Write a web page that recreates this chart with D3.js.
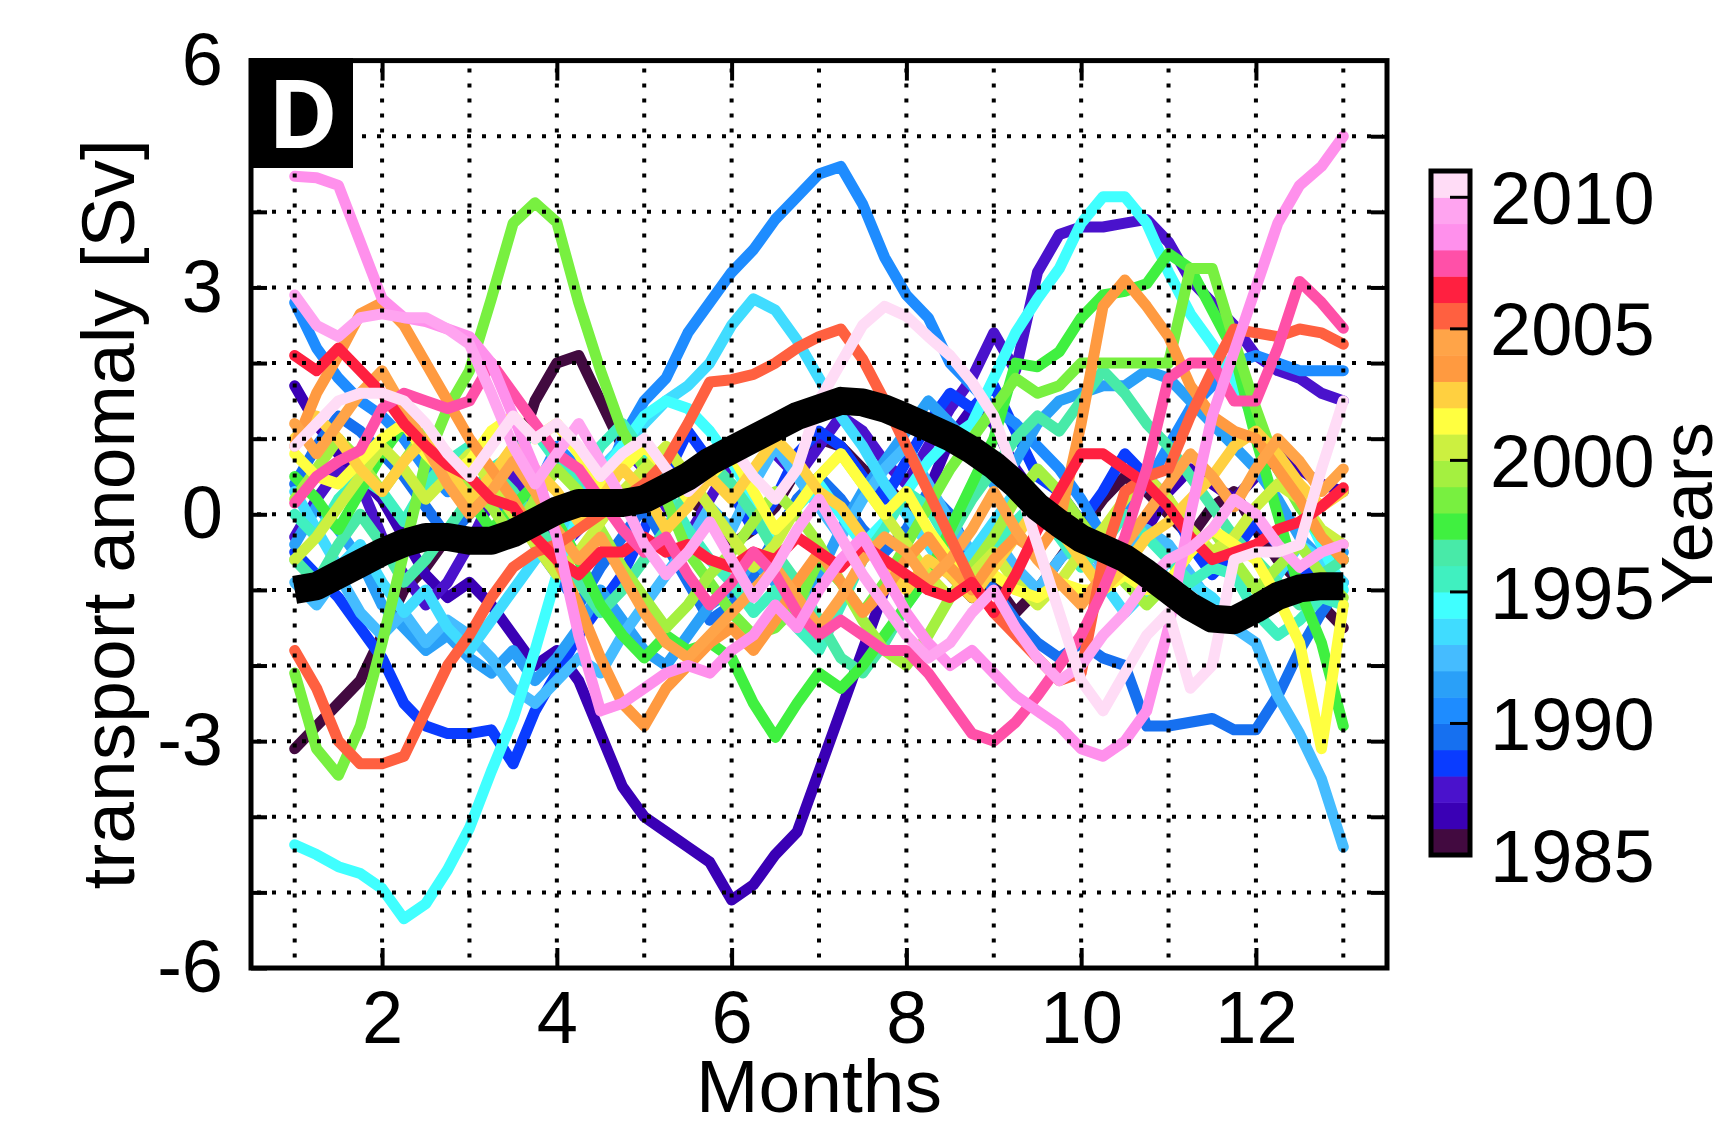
<!DOCTYPE html>
<html>
<head>
<meta charset="utf-8">
<script src="https://cdn.jsdelivr.net/npm/d3@7/dist/d3.min.js"></script>
<style>
body { margin: 0; background: #fff; }
text { font-family: "Liberation Sans", Arial, Helvetica, sans-serif; fill: #000; }
</style>
</head>
<body>
<svg id="chart" width="1729" height="1129"></svg>
<script>
// --------DATA--------------
// one value every quarter month, from month 1 to month 13 (49 values each)
var years = [1985, 1986, 1987, 1988, 1989, 1990, 1991, 1992, 1993, 1994, 1995, 1996, 1997,
             1998, 1999, 2000, 2001, 2002, 2003, 2004, 2005, 2006, 2007, 2008, 2009, 2010];
var yearColors = ["#420a40", "#3a00b5", "#4a12cc", "#0a3cff", "#1670f0", "#1e8cff", "#2aa0f8",
                  "#45bcff", "#40dcff", "#40ffff", "#40f0c0", "#48eaa8", "#40f040", "#78f040",
                  "#a4f040", "#ccf040", "#ffff40", "#ffd040", "#ff9a40", "#ffa448", "#ff6040",
                  "#ff2040", "#ff50a8", "#ff90ec", "#ffa4f0", "#ffdcf6"];
var monthTicks = [2, 4, 6, 8, 10, 12];
var anomalyTicks = [-6, -3, 0, 3, 6];
var yearTicks = [1985, 1990, 1995, 2000, 2005, 2010];

var y1985 = [-3.1, -2.8, -2.5, -2.2, -1.6, -1.0, -0.7, -0.3, 0.1, 0.4, 0.6, 1.5, 2.0, 2.1, 1.5, 0.9,
  0.7, 0.5, 0.2, 0.0, -0.4, -0.2, 0.1, 0.6, 1.0, 0.9, 0.6, 0.4, 0.1, -0.3, -0.8, -1.1,
  -0.9, -1.3, -1.0, -0.6, -0.2, 0.2, 0.5, 0.3, 0.0, -0.3, 0.1, 0.3, -0.2, -0.6, -0.9, -1.2, -1.5];
var y1986 = [1.7, 1.2, 0.8, 0.5, 0.2, -0.3, -0.8, -1.1, -0.9, -1.2, -1.6, -2.0, -1.8, -2.2, -2.9, -3.6,
  -4.0, -4.2, -4.4, -4.6, -5.1, -4.9, -4.5, -4.2, -3.4, -2.6, -1.8, -1.0, -0.4, 0.3, 1.0, 1.4,
  1.2, 0.6, 0.2, -0.1, -0.6, -0.9, -0.6, -0.2, 0.3, 0.6, 0.4, 0.2, 0.5, 0.8, 0.6, 0.4, 0.3];
var y1987 = [-0.3, 0.2, 0.6, 0.4, -0.3, -0.8, -1.2, -0.9, -0.4, 0.2, 0.5, 0.1, -0.5, -0.2, 0.4, 0.9,
  0.6, 0.1, -0.3, 0.2, 0.7, 1.1, 0.8, 0.5, 0.9, 1.3, 1.1, 0.7, 0.4, 0.9, 1.4, 1.8,
  2.4, 1.9, 3.2, 3.7, 3.8, 3.8, 3.85, 3.9, 3.6, 3.1, 2.8, 2.5, 2.1, 1.9, 1.8, 1.6, 1.5];
var y1988 = [-0.5, -0.8, -1.1, -1.5, -1.9, -2.5, -2.8, -2.9, -2.9, -2.85, -3.3, -2.6, -2.1, -1.6, -1.2, -0.8,
  -0.2, 0.5, 1.1, 0.7, 0.3, -0.2, 0.2, 0.8, 1.1, 0.9, 0.5, 0.2, 0.7, 1.2, 1.6, 1.4,
  1.7, 1.1, 0.5, 0.3, -0.1, 0.3, 0.8, 0.5, 0.2, -0.4, -0.8, -0.5, -0.1, -0.4, -0.9, -0.6, -0.6];
var y1989 = [0.4, 0.9, 1.3, 1.1, 0.8, 0.5, 0.1, -0.3, 0.0, 0.4, 0.1, -0.4, -0.8, -1.2, -0.7, -0.3,
  0.1, -0.4, -0.9, -1.4, -1.2, -0.8, -0.3, 0.2, 0.5, 0.2, -0.2, -0.5, -0.2, 0.3, 0.0, -0.6,
  -1.0, -1.4, -1.7, -1.9, -1.7, -1.9, -2.0, -2.8, -2.8, -2.75, -2.7, -2.85, -2.85, -2.4, -1.8, -1.3, -0.9];
var y1990 = [2.8, 2.2, 1.8, 1.5, 1.3, 1.0, 0.6, 0.3, 0.5, 0.2, -0.2, 0.3, 0.9, 0.6, 0.3, 1.0,
  1.5, 1.8, 2.4, 2.8, 3.2, 3.5, 3.9, 4.2, 4.5, 4.6, 4.1, 3.4, 2.9, 2.6, 2.0, 1.7,
  1.4, 1.2, 0.9, 0.6, 0.2, -0.3, 0.1, 0.4, 0.9, 1.4, 1.7, 2.0, 2.1, 2.0, 1.9, 1.9, 1.9];
var y1991 = [-0.4, 0.1, -0.2, -0.6, -1.2, -1.5, -1.8, -1.6, -1.9, -2.1, -1.8, -2.2, -1.9, -1.5, -1.0, -1.4,
  -1.8, -2.0, -1.6, -1.2, -1.0, -0.6, -0.9, -1.3, -0.8, -0.2, 0.3, 0.7, 1.1, 1.5, 1.2, 0.9,
  0.4, 0.7, 1.2, 1.5, 1.6, 1.7, 1.7, 1.9, 1.8, 1.5, 1.2, 0.9, 0.6, 0.2, -0.3, -0.6, -0.5];
var y1992 = [-0.9, -1.2, -0.8, -1.3, -1.6, -1.3, -1.7, -1.4, -1.6, -1.9, -2.3, -2.5, -2.2, -1.9, -2.1, -1.6,
  -1.2, -0.8, -0.4, 0.1, -0.2, 0.4, 0.9, 0.5, 0.1, -0.3, 0.2, 0.6, 0.9, 0.4, -0.1, -0.5,
  -0.3, -0.7, -1.0, -0.6, -0.3, -0.7, -0.5, -0.2, -0.4, -0.8, -1.2, -1.5, -1.7, -2.4, -2.9, -3.5, -4.4];
var y1993 = [0.3, -0.2, -0.7, -0.4, -0.9, -1.3, -1.0, -1.5, -1.8, -1.4, -1.0, -0.6, -0.3, 0.2, 0.6, 0.9,
  1.2, 1.5, 1.7, 2.0, 2.5, 2.85, 2.7, 2.3, 1.8, 1.3, 0.9, 0.4, 0.0, -0.4, -0.8, -0.5,
  -0.1, 0.3, 0.1, -0.3, -0.6, -0.9, -1.3, -1.0, -0.6, -0.9, -1.1, -1.4, -1.2, -0.8, -0.4, -0.6, -0.9];
var y1994 = [-4.37, -4.5, -4.66, -4.75, -4.95, -5.35, -5.15, -4.7, -4.15, -3.4, -2.7, -1.8, -0.8, 0.0, 0.5, 0.9,
  1.3, 1.5, 1.4, 1.1, 0.7, 0.2, -0.3, 0.1, 0.4, 0.0, -0.4, -0.1, 0.3, 0.7, 1.0, 1.2,
  1.8, 2.4, 2.85, 3.25, 3.85, 4.2, 4.2, 3.85, 3.2, 2.65, 2.25, 1.8, 1.2, 0.6, 0.2, -0.4, -1.0];
var y1995 = [0.0, -0.3, 0.2, 0.5, 0.3, -0.1, 0.4, 0.7, 0.9, 0.6, 0.8, 1.1, 0.7, 0.4, 0.9, 1.2,
  0.8, 0.3, -0.2, -0.6, -0.9, -1.3, -1.0, -1.5, -1.8, -1.2, -0.6, -0.2, 0.3, 0.1, -0.4, -0.8,
  -0.5, -0.1, 0.2, -0.3, -0.7, -0.4, 0.0, -0.3, -0.6, -0.9, -0.7, -0.8, -1.3, -1.6, -1.4, -1.1, -1.2];
var y1996 = [-0.6, -0.9, -0.4, 0.0, -0.4, -0.9, -0.6, -0.2, 0.2, 0.6, 0.3, -0.1, -0.5, -0.9, -1.3, -1.0,
  -0.6, -0.2, 0.3, 0.7, 0.4, 0.0, -0.5, -0.9, -1.4, -1.9, -2.1, -1.7, -1.2, -0.8, -0.3, 0.2,
  0.6, 1.0, 1.3, 1.1, 1.5, 1.9, 1.6, 1.2, 0.9, 0.5, 0.1, -0.3, -0.6, -0.9, -1.2, -0.8, -0.6];
var y1997 = [0.5, 0.2, -0.2, 0.3, 0.8, 1.2, 0.9, 0.5, 0.2, -0.2, 0.1, 0.4, -0.1, -0.6, -1.2, -1.6,
  -1.9, -1.6, -1.8, -1.7, -1.9, -2.5, -2.95, -2.5, -2.1, -2.3, -2.0, -1.6, -1.2, -0.8, -0.2, 0.4,
  1.0, 2.0, 1.95, 2.15, 2.6, 2.9, 2.95, 3.05, 3.45, 3.25, 2.7, 2.15, 1.0, 0.0, -1.0, -1.7, -2.8];
var y1998 = [-2.1, -3.1, -3.45, -2.8, -1.7, -0.5, 0.7, 1.4, 1.9, 2.85, 3.85, 4.12, 3.86, 2.8, 1.9, 1.1,
  0.6, 0.2, -0.5, -0.9, -1.3, -1.6, -1.5, -1.2, -0.6, -0.9, -1.3, -0.9, -0.4, 0.1, 0.6, 1.0,
  1.4, 1.8, 1.6, 1.7, 2.0, 2.0, 2.0, 2.0, 2.0, 3.25, 3.25, 2.3, 1.4, 0.6, 0.1, -0.3, -0.6];
var y1999 = [0.2, 0.6, 1.0, 0.7, 0.3, 0.7, 1.1, 0.8, 0.4, 0.1, -0.3, 0.2, 0.6, 0.3, -0.2, -0.7,
  -1.1, -1.5, -1.2, -0.8, -0.5, -0.1, 0.3, 0.0, -0.4, -0.9, -1.4, -1.8, -2.0, -1.6, -1.1, -0.7,
  -0.3, 0.2, 0.6, 0.3, -0.1, -0.5, -0.9, -1.2, -0.9, -0.5, -0.2, -0.6, -1.0, -0.7, -0.4, -0.8, -1.1];
var y2000 = [-0.6, -0.3, 0.1, 0.5, 0.9, 0.6, 0.2, 0.5, 0.8, 0.4, 0.0, -0.4, -0.8, -0.5, -0.1, 0.3,
  0.6, 0.9, 0.5, 0.1, -0.3, -0.7, -0.4, 0.1, 0.5, 0.8, 0.4, 0.0, -0.4, -0.8, -1.1, -0.8,
  -0.5, -0.9, -1.2, -0.9, -0.5, -0.2, 0.2, 0.5, 0.2, -0.2, -0.5, -0.3, 0.1, 0.4, 0.2, -0.2, -0.4];
var y2001 = [0.8, 0.5, 0.4, 0.7, 1.0, 1.2, 0.8, 0.5, 0.7, 1.1, 1.3, 1.0, 1.2, 0.8, 0.3, 0.6,
  0.9, 0.6, 0.2, 0.5, 0.8, 0.3, -0.2, 0.1, 0.5, 0.8, 0.4, 0.0, 0.3, -0.2, -0.6, -0.9,
  -0.8, -1.0, -1.1, -0.9, -1.0, -1.0, -0.8, -1.0, -0.9, -0.5, -0.2, -0.4, -0.6, -1.1, -1.7, -3.1, -1.2];
var y2002 = [1.0, 1.3, 1.0, 0.6, 0.3, 0.7, 1.0, 0.6, 0.2, 0.5, 0.9, 0.6, 0.3, -0.1, 0.2, 0.6,
  0.3, -0.2, 0.1, 0.5, 0.2, 0.6, 1.0, 0.7, 0.3, 0.1, -0.3, -0.7, -1.0, -0.6, -0.8, -1.1,
  -0.7, -0.3, 0.1, -0.2, -0.6, -1.0, -0.7, -0.3, -0.1, 0.2, 0.5, 0.9, 1.1, 0.8, 0.4, 0.1, 0.3];
var y2003 = [0.9, 1.6, 2.1, 2.65, 2.8, 2.5, 2.0, 1.5, 1.0, 0.6, 0.2, -0.3, -0.6, -1.2, -1.9, -2.5,
  -2.8, -2.3, -2.0, -1.7, -1.5, -1.8, -1.4, -0.9, -0.5, -0.9, -1.3, -1.0, -0.6, -0.3, -0.7, -1.0,
  -0.6, -0.3, -0.5, -0.1, 1.2, 2.75, 3.1, 2.75, 2.35, 1.7, 1.3, 1.1, 1.0, 0.6, 0.2, -0.3, -0.6];
var y2004 = [1.2, 0.8, 1.2, 1.6, 1.9, 1.4, 0.9, 0.4, 0.0, 0.3, 0.7, 0.3, -0.2, -0.6, -0.3, -0.8,
  -1.3, -1.7, -1.9, -1.6, -1.3, -1.0, -0.7, -1.1, -1.5, -1.1, -0.6, -0.3, -0.5, -0.9, -0.6, -0.2,
  0.3, -0.2, -0.6, -0.9, -1.2, -0.8, -0.4, 0.0, 0.4, 0.8, 0.5, 0.1, 0.6, 1.0, 0.7, 0.3, 0.6];
var y2005 = [-1.8, -2.3, -3.0, -3.3, -3.3, -3.2, -2.6, -2.0, -1.6, -1.1, -0.7, -0.5, -0.4, -0.2, 0.0, 0.2,
  0.4, 0.7, 1.2, 1.75, 1.78, 1.85, 2.0, 2.2, 2.35, 2.45, 2.05, 1.5, 0.9, 0.3, -0.3, -0.9,
  -1.3, -1.6, -1.9, -2.2, -2.1, -0.6, 0.3, 0.5, 0.6, 1.3, 1.9, 2.45, 2.4, 2.35, 2.45, 2.4, 2.25];
var y2006 = [2.1, 1.9, 2.2, 1.9, 1.6, 1.2, 0.9, 0.65, 0.5, 0.2, 0.1, -0.3, -0.6, -0.8, -0.5, -0.5,
  -0.3, -0.5, -0.4, -0.6, -0.7, -0.5, -0.6, -0.3, -0.5, -0.7, -0.4, -0.6, -0.8, -1.0, -1.1, -0.9,
  -1.3, -0.8, -0.2, 0.3, 0.8, 0.8, 0.6, 0.4, 0.1, -0.3, -0.6, -0.5, -0.4, -0.2, -0.1, 0.1, 0.35];
var y2007 = [0.15, 0.5, 0.7, 0.85, 1.4, 1.6, 1.5, 1.4, 1.5, 2.0, 1.6, 1.2, 0.8, 0.6, 0.2, -0.2,
  -0.5, -0.3, -0.8, -1.2, -0.9, -0.5, -0.8, -1.3, -1.6, -1.4, -1.6, -1.8, -1.8, -2.1, -2.5, -2.9,
  -3.0, -2.75, -2.4, -2.0, -1.6, -1.0, -0.3, 0.6, 1.8, 2.0, 2.0, 1.5, 1.5, 2.2, 3.08, 2.8, 2.46];
var y2008 = [4.47, 4.45, 4.35, 3.6, 2.85, 2.6, 2.55, 2.45, 2.35, 2.0, 1.3, 0.6, -0.3, -1.6, -2.6, -2.5,
  -2.3, -2.1, -2.0, -2.1, -1.8, -1.6, -1.2, -1.5, -1.0, -0.6, -0.3, -0.8, -1.3, -1.7, -2.0, -1.8,
  -2.1, -2.4, -2.6, -2.8, -3.1, -3.2, -3.0, -2.6, -1.5, 0.0, 1.3, 2.15, 3.0, 3.85, 4.35, 4.6, 5.0];
var y2009 = [2.9, 2.5, 2.35, 2.6, 2.65, 2.6, 2.6, 2.45, 2.25, 1.6, 0.9, 0.4, 0.8, 1.2, 0.7, 0.2,
  -0.4, -0.8, -0.5, -0.1, -0.6, -1.1, -0.7, -0.2, 0.2, -0.3, -0.8, -1.2, -1.6, -1.9, -1.7, -1.3,
  -1.0, -1.5, -1.9, -2.2, -2.0, -1.6, -1.3, -0.9, -0.6, -0.45, -0.2, 0.2, 0.0, -0.4, -0.7, -0.5, -0.4];
var y2010 = [0.9, 1.2, 1.5, 1.6, 1.6, 1.5, 1.2, 0.8, 0.5, 0.9, 1.3, 1.0, 1.2, 0.9, 0.5, 0.8,
  1.0, 0.6, 0.3, 0.6, 0.9, 0.5, 0.2, 0.6, 1.5, 2.0, 2.5, 2.75, 2.62, 2.35, 2.1, 1.75,
  1.3, 0.5, -0.4, -1.3, -2.2, -2.6, -2.1, -1.6, -1.3, -2.3, -2.0, -0.6, -0.5, -0.5, -0.4, 0.6, 1.5];

// climatological mean (thick black)
var meanCycle = [-1.0, -0.95, -0.8, -0.65, -0.5, -0.38, -0.3, -0.3, -0.35, -0.35, -0.25, -0.1,
  0.05, 0.15, 0.15, 0.15, 0.2, 0.35, 0.5, 0.7, 0.85, 1.0, 1.15, 1.3, 1.4, 1.5, 1.48, 1.4,
  1.28, 1.15, 1.02, 0.85, 0.65, 0.4, 0.1, -0.12, -0.32, -0.45, -0.58, -0.78,
  -1.0, -1.22, -1.38, -1.4, -1.25, -1.08, -0.98, -0.95, -0.95];

var seriesList = [y1985, y1986, y1987, y1988, y1989, y1990, y1991, y1992, y1993, y1994, y1995, y1996, y1997,
                  y1998, y1999, y2000, y2001, y2002, y2003, y2004, y2005, y2006, y2007, y2008, y2009, y2010];

var months = meanCycle.map(function(d, i) { return 1 + i / 4; });

// --------LAYOUT--------------
var svg = d3.select("#chart");
var plot = {left: 251, right: 1387, top: 60.6, bottom: 968};

var x = d3.scaleLinear().domain([0.5, 13.5]).range([plot.left, plot.right]);
var y = d3.scaleLinear().domain([-6, 6]).range([plot.bottom, plot.top]);

var line = d3.line()
  .x(function(d, i) { return x(months[i]); })
  .y(function(d) { return y(d); });

// yearly curves
svg.append("g")
  .selectAll("path")
  .data(seriesList)
  .enter().append("path")
  .attr("d", line)
  .attr("fill", "none")
  .attr("stroke", function(d, i) { return yearColors[i]; })
  .attr("stroke-width", 11)
  .attr("stroke-linecap", "round")
  .attr("stroke-linejoin", "round");

// dotted grid drawn over the curves
var grid = svg.append("g")
  .attr("stroke", "#000")
  .attr("stroke-width", 4)
  .attr("stroke-dasharray", "4 11");

grid.selectAll(".vgrid")
  .data(d3.range(1, 14))
  .enter().append("line")
  .attr("class", "vgrid")
  .attr("x1", function(d) { return x(d); })
  .attr("x2", function(d) { return x(d); })
  .attr("y1", y(6) + 8)
  .attr("y2", y(-6) - 4);

grid.selectAll(".hgrid")
  .data(d3.range(-5, 6))
  .enter().append("line")
  .attr("class", "hgrid")
  .attr("x1", x(0.5) + 6)
  .attr("x2", x(13.5) - 4)
  .attr("y1", function(d) { return y(d); })
  .attr("y2", function(d) { return y(d); });

// mean curve
svg.append("path")
  .datum(meanCycle)
  .attr("d", line)
  .attr("fill", "none")
  .attr("stroke", "#000")
  .attr("stroke-width", 28)
  .attr("stroke-linejoin", "round");

// --------AXES--------------
var fmt = function(d) { return String(d); };

var axLeft = svg.append("g")
  .attr("transform", "translate(" + plot.left + ",0)")
  .call(d3.axisLeft(y).tickValues(d3.range(-6, 7)).tickSize(-16).tickPadding(28)
    .tickFormat(function(d) { return anomalyTicks.indexOf(d) >= 0 ? fmt(d) : ""; }));

var axRight = svg.append("g")
  .attr("transform", "translate(" + plot.right + ",0)")
  .call(d3.axisRight(y).tickValues(d3.range(-5, 6)).tickSize(-16).tickFormat(""));

var axBottom = svg.append("g")
  .attr("transform", "translate(0," + plot.bottom + ")")
  .call(d3.axisBottom(x).tickValues(monthTicks).tickSize(-20).tickPadding(22).tickFormat(fmt));

var axTop = svg.append("g")
  .attr("transform", "translate(0," + plot.top + ")")
  .call(d3.axisTop(x).tickValues(monthTicks).tickSize(-20).tickFormat(""));

[axLeft, axRight, axBottom, axTop].forEach(function(a) {
  a.select(".domain").remove();
  a.selectAll(".tick line").attr("stroke", "#000").attr("stroke-width", 4);
  a.selectAll("text")
    .style("font-family", "'Liberation Sans', Arial, sans-serif")
    .style("font-size", "74px")
    .attr("fill", "#000");
});

// frame
svg.append("rect")
  .attr("x", plot.left)
  .attr("y", plot.top)
  .attr("width", plot.right - plot.left)
  .attr("height", plot.bottom - plot.top)
  .attr("fill", "none")
  .attr("stroke", "#000")
  .attr("stroke-width", 5);

// axis titles
svg.append("text")
  .attr("transform", "translate(134," + y(0) + ") rotate(-90)")
  .attr("text-anchor", "middle")
  .style("font-size", "75px")
  .text("transport anomaly [Sv]");

svg.append("text")
  .attr("x", (plot.left + plot.right) / 2)
  .attr("y", 1112)
  .attr("text-anchor", "middle")
  .style("font-size", "75px")
  .text("Months");

// panel letter
svg.append("rect")
  .attr("x", 249)
  .attr("y", 58)
  .attr("width", 104)
  .attr("height", 110)
  .attr("fill", "#000");

svg.append("text")
  .attr("x", 303)
  .attr("y", 148)
  .attr("text-anchor", "middle")
  .style("font-family", "'Open Sans', 'DejaVu Sans', sans-serif")
  .style("font-weight", "bold")
  .style("font-size", "95px")
  .style("fill", "#fff")
  .text("D");

// --------COLORBAR--------------
var cb = {left: 1431, width: 39, top: 171, bottom: 855};
var cy = d3.scaleLinear().domain([1985, 2011]).range([cb.bottom, cb.top]);

svg.append("g")
  .selectAll("rect")
  .data(years)
  .enter().append("rect")
  .attr("x", cb.left)
  .attr("width", cb.width)
  .attr("y", function(d) { return cy(d + 1); })
  .attr("height", function(d) { return cy(d) - cy(d + 1) + 0.5; })
  .attr("fill", function(d, i) { return yearColors[i]; });

svg.append("rect")
  .attr("x", cb.left)
  .attr("y", cb.top)
  .attr("width", cb.width)
  .attr("height", cb.bottom - cb.top)
  .attr("fill", "none")
  .attr("stroke", "#000")
  .attr("stroke-width", 5);

svg.append("g")
  .selectAll("line")
  .data(yearTicks.slice(1))
  .enter().append("line")
  .attr("x1", cb.left + cb.width - 2)
  .attr("x2", cb.left + cb.width - 20)
  .attr("y1", function(d) { return cy(d); })
  .attr("y2", function(d) { return cy(d); })
  .attr("stroke", "#000")
  .attr("stroke-width", 3);

svg.append("g")
  .selectAll("text")
  .data(yearTicks)
  .enter().append("text")
  .attr("x", 1490)
  .attr("y", function(d) { return cy(d); })
  .attr("dy", "0.36em")
  .style("font-size", "74px")
  .text(function(d) { return d; });

svg.append("text")
  .attr("transform", "translate(1712," + (cb.top + cb.bottom) / 2 + ") rotate(-90)")
  .attr("text-anchor", "middle")
  .style("font-size", "72px")
  .text("Years");
</script>
</body>
</html>
